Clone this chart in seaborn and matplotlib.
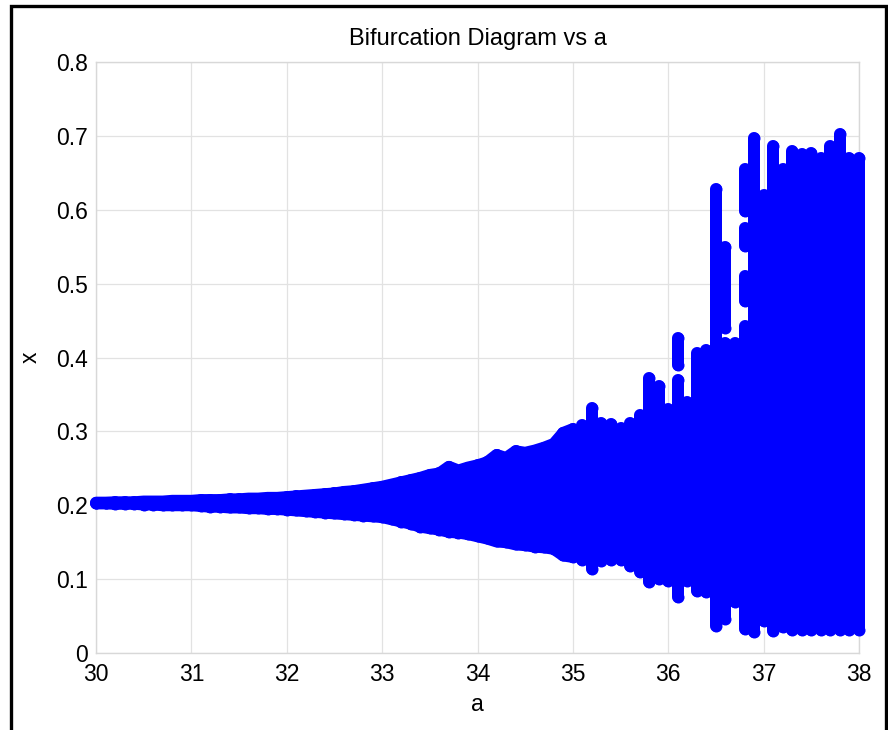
import numpy as np
import pandas as pd
import matplotlib
matplotlib.use("Agg")
import matplotlib.pyplot as plt
import seaborn as sns
from matplotlib.patches import Rectangle

# ---- data: each column of the bifurcation diagram as
# vertical runs of merged points (a, lowest x, highest x) ----
seg_a = [30.0, 30.1, 30.2, 30.3, 30.4, 30.5, 30.6, 30.7, 30.8, 30.9,
         31.0, 31.1, 31.2, 31.3, 31.4, 31.5, 31.6, 31.7, 31.8, 31.9,
         32.0, 32.1, 32.2, 32.3, 32.4, 32.5, 32.6, 32.7, 32.8, 32.9,
         33.0, 33.1, 33.2, 33.3, 33.4, 33.5, 33.6, 33.7, 33.8, 33.9,
         34.0, 34.1, 34.2, 34.3, 34.4, 34.5, 34.6, 34.7, 34.8, 34.9,
         35.0, 35.1, 35.2, 35.3, 35.4, 35.5, 35.6, 35.7, 35.8, 35.9,
         36.0, 36.1, 36.1, 36.2, 36.3, 36.4, 36.5, 36.6, 36.6, 36.7,
         36.8, 36.8, 36.8, 36.8, 36.9, 37.0, 37.1, 37.2, 37.3, 37.4,
         37.5, 37.6, 37.7, 37.8, 37.9, 38.0]
seg_lo = [0.2025, 0.2025, 0.202, 0.202, 0.202, 0.201, 0.201, 0.200, 0.200, 0.200,
          0.200, 0.199, 0.198, 0.198, 0.197, 0.197, 0.196, 0.196, 0.195, 0.195,
          0.194, 0.193, 0.192, 0.191, 0.190, 0.189, 0.188, 0.187, 0.186, 0.185,
          0.184, 0.181, 0.178, 0.175, 0.171, 0.169, 0.167, 0.164, 0.163, 0.161,
          0.158, 0.155, 0.151, 0.150, 0.147, 0.146, 0.144, 0.143, 0.141, 0.132,
          0.130, 0.126, 0.114, 0.124, 0.126, 0.126, 0.118, 0.110, 0.096, 0.100,
          0.097, 0.076, 0.390, 0.097, 0.084, 0.083, 0.037, 0.046, 0.440, 0.069,
          0.0325, 0.476, 0.551, 0.598, 0.028, 0.043, 0.030, 0.035, 0.031, 0.031,
          0.031, 0.031, 0.031, 0.031, 0.031, 0.031]
seg_hi = [0.2035, 0.2035, 0.204, 0.204, 0.204, 0.205, 0.205, 0.205, 0.206, 0.206,
          0.206, 0.207, 0.207, 0.207, 0.208, 0.208, 0.209, 0.209, 0.210, 0.210,
          0.211, 0.212, 0.213, 0.214, 0.215, 0.216, 0.218, 0.219, 0.221, 0.223,
          0.225, 0.228, 0.231, 0.234, 0.237, 0.241, 0.243, 0.252, 0.247, 0.251,
          0.254, 0.258, 0.268, 0.264, 0.273, 0.271, 0.274, 0.278, 0.283, 0.298,
          0.303, 0.309, 0.332, 0.312, 0.310, 0.305, 0.312, 0.322, 0.372, 0.361,
          0.330, 0.370, 0.426, 0.340, 0.406, 0.410, 0.628, 0.420, 0.550, 0.420,
          0.443, 0.510, 0.575, 0.655, 0.697, 0.620, 0.686, 0.655, 0.680, 0.675,
          0.677, 0.670, 0.686, 0.702, 0.670, 0.670]
N_SMOOTH = 51  # columns 30.0 .. 35.0 form one continuous band

x_ticks = [30, 31, 32, 33, 34, 35, 36, 37, 38]
y_ticks = [0, 0.1, 0.2, 0.3, 0.4, 0.5, 0.6, 0.7, 0.8]
y_tick_labels = ["0", "0.1", "0.2", "0.3", "0.4", "0.5", "0.6", "0.7", "0.8"]

sns.set_theme(style="white")
plt.rcParams["font.family"] = ["Liberation Sans", "DejaVu Sans"]
plt.rcParams["text.color"] = "black"
plt.rcParams["axes.labelcolor"] = "black"

W, H, DPI = 888, 730, 100
fig = plt.figure(figsize=(W / DPI, H / DPI), dpi=DPI)
fig.patch.set_facecolor("white")
ax = fig.add_axes([96 / W, 1 - 653 / H, (859 - 96) / W, (653 - 62) / H])

blue = (0, 0, 1)
dot_pt = 12 * 72 / DPI  # marker diameter in points

# vertical runs of merged markers
ax.vlines(seg_a, seg_lo, seg_hi, colors=[blue], linewidth=dot_pt,
          capstyle="round", zorder=3, clip_on=False)
# the continuous band edges (merged markers) from 30 to 35
band = pd.DataFrame({"a": seg_a[:N_SMOOTH], "lo": seg_lo[:N_SMOOTH],
                     "hi": seg_hi[:N_SMOOTH]})
for col in ["lo", "hi"]:
    sns.lineplot(data=band, x="a", y=col, color=blue, linewidth=dot_pt,
                 solid_capstyle="round", solid_joinstyle="round", ax=ax,
                 zorder=3, clip_on=False)
# the individual end points of each run
pts = pd.DataFrame({"a": seg_a + seg_a, "x": seg_lo + seg_hi})
sns.scatterplot(data=pts, x="a", y="x", color=blue, s=dot_pt ** 2,
                linewidth=0, marker="o", ax=ax, zorder=4, clip_on=False,
                legend=False)

ax.set_xlim(30, 38)
ax.set_ylim(0, 0.8)
ax.set_xticks(x_ticks)
ax.set_xticklabels([str(t) for t in x_ticks])
ax.set_yticks(y_ticks)
ax.set_yticklabels(y_tick_labels)
ax.tick_params(axis="both", labelsize=16.5, colors="#c8c8c8", labelcolor="black",
               direction="in", length=6, width=0.8)
ax.tick_params(axis="x", pad=7)
ax.tick_params(axis="y", pad=6)
ax.grid(True, color="#e2e2e2", linewidth=0.9, linestyle="-")
ax.set_axisbelow(True)
for s in ax.spines.values():
    s.set_color("#d8d8d8")
    s.set_linewidth(1.0)

ax.set_title("Bifurcation Diagram vs a", fontsize=17, pad=12, color="black")
ax.set_xlabel("a", fontsize=16.5, labelpad=5, color="black")
ax.set_ylabel("x", fontsize=16.5, labelpad=10, color="black")

# outer black frame of the figure
fig.add_artist(Rectangle((11 / W, -0.05), (886 - 11) / W, 1.05 - 6 / H,
                         transform=fig.transFigure, fill=False,
                         edgecolor="black", linewidth=2.4, zorder=10))

fig.savefig("out.png", dpi=DPI)
